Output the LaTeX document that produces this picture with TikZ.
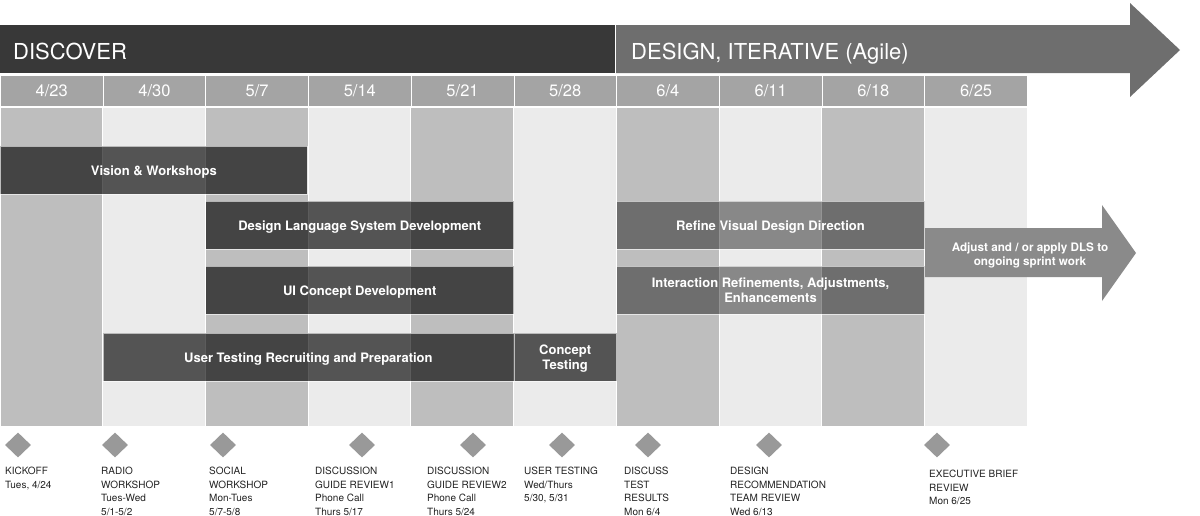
\documentclass[tikz,border=0pt]{standalone}
\usepackage{fontspec}
\setmainfont{TeX Gyre Heros}
\usetikzlibrary{shapes.geometric}
\definecolor{hdrdark}{HTML}{383838}
\definecolor{hdrdesign}{HTML}{6E6E6E}
\definecolor{datecell}{HTML}{A4A4A4}
\definecolor{banddark}{HTML}{BEBEBE}
\definecolor{bandlight}{HTML}{EBEBEB}
\definecolor{msgray}{HTML}{999999}
\definecolor{adjustgray}{HTML}{8A8A8A}
\definecolor{mstext}{HTML}{222222}
\begin{document}
\begin{tikzpicture}[x=1pt,y=-1pt,
  datebox/.style={fill=datecell, draw=white, line width=0.8pt, minimum width=102.7pt, minimum height=31pt, anchor=north west, inner sep=0pt, text=white, font=\fontsize{16.5}{18}\selectfont},
  darkbar/.style={fill=black, fill opacity=0.64, text opacity=1, draw=white, draw opacity=0.6, line width=0.6pt, anchor=north west, inner sep=0pt, minimum height=48pt, text=white, text depth=0pt, font=\bfseries\fontsize{13}{15.7}\selectfont, align=center},
  lightbar/.style={darkbar, fill opacity=0.42},
  milestone/.style={diamond, fill=msgray, inner sep=0pt, minimum width=26pt, minimum height=25pt},
  mslabel/.style={anchor=north west, inner sep=0pt, align=left, text=mstext, font=\fontsize{10}{13.5}\selectfont},
  hdrtext/.style={anchor=base west, inner sep=0pt, text=white, font=\fontsize{22}{26}\selectfont},
  bandlt/.style={fill=bandlight, draw=white, line width=0.8pt},
  banddk/.style={fill=banddark, draw=white, line width=0.8pt},
]
\useasboundingbox (0,0) rectangle (1200,515);
% column bands
\foreach \i in {0,2,4,6,8} \filldraw[banddk] ({\i*102.7},107) rectangle ({(\i+1)*102.7},426);
\foreach \i in {1,3,5,7,9} \filldraw[bandlt] ({\i*102.7},107) rectangle ({(\i+1)*102.7},426);
% header
\fill[hdrdark] (0,25) rectangle (615,73);
\fill[hdrdesign] (616,25) -- (1130,25) -- (1130,3) -- (1180,50) -- (1130,97) -- (1130,73) -- (616,73) -- cycle;
\node[hdrtext] (discover) at (13,59) {DISCOVER};
\node[hdrtext] (design) at (631,59) {DESIGN, ITERATIVE (Agile)};
% dates
\foreach \d [count=\i from 0] in {4/23,4/30,5/7,5/14,5/21,5/28,6/4,6/11,6/18,6/25}
  \node[datebox] (date\i) at ({\i*102.7},75) {\d};
% bars
\node[darkbar, minimum width=307pt] (vision) at (0,146) {Vision \& Workshops};
\node[darkbar, minimum width=308pt] (dls) at (205.4,201) {Design Language System Development};
\node[darkbar, minimum width=308pt] (ui) at (205.4,266) {UI Concept Development};
\node[darkbar, minimum width=410.8pt] (utr) at (102.7,333) {User Testing Recruiting and Preparation};
\node[darkbar, minimum width=102.7pt] (ct) at (513.5,333) {Concept\\Testing};
\node[lightbar, minimum width=308pt] (refine) at (616.2,201) {Refine Visual Design Direction};
\node[lightbar, minimum width=308pt] (inter) at (616.2,266) {Interaction Refinements, Adjustments,\\Enhancements};
% adjust arrow
\fill[adjustgray] (925,228) -- (1102,228) -- (1102,205) -- (1136,253) -- (1102,301) -- (1102,277) -- (925,277) -- cycle;
\node[font=\bfseries\fontsize{11.7}{14.7}\selectfont, text=white, align=center, inner sep=0pt, text depth=0pt] (adjust) at (1030,254) {Adjust and / or apply DLS to\\ongoing sprint work};
% milestones
\node[milestone] (m1) at (18,445) {};
\node[milestone] (m2) at (115,445) {};
\node[milestone] (m3) at (223,445) {};
\node[milestone] (m4) at (362,445) {};
\node[milestone] (m5) at (473,445) {};
\node[milestone] (m6) at (562,445) {};
\node[milestone] (m7) at (648,445) {};
\node[milestone] (m8) at (769,445) {};
\node[milestone] (m9) at (937,445) {};
\node[mslabel] (l1) at (5,467) {KICKOFF\\Tues, 4/24};
\node[mslabel] (l2) at (101,467) {RADIO\\WORKSHOP\\Tues-Wed\\5/1-5/2};
\node[mslabel] (l3) at (209,467) {SOCIAL\\WORKSHOP\\Mon-Tues\\5/7-5/8};
\node[mslabel] (l4) at (315,467) {DISCUSSION\\GUIDE REVIEW1\\Phone Call\\Thurs 5/17};
\node[mslabel] (l5) at (427,467) {DISCUSSION\\GUIDE REVIEW2\\Phone Call\\Thurs 5/24};
\node[mslabel] (l6) at (524,467) {USER TESTING\\Wed/Thurs\\5/30, 5/31};
\node[mslabel] (l7) at (624,467) {DISCUSS\\TEST\\RESULTS\\Mon 6/4};
\node[mslabel] (l8) at (730,467) {DESIGN\\RECOMMENDATION\\TEAM REVIEW\\Wed 6/13};
\node[mslabel] (l9) at (929,470) {EXECUTIVE BRIEF\\REVIEW\\Mon 6/25};
\end{tikzpicture}
\end{document}
